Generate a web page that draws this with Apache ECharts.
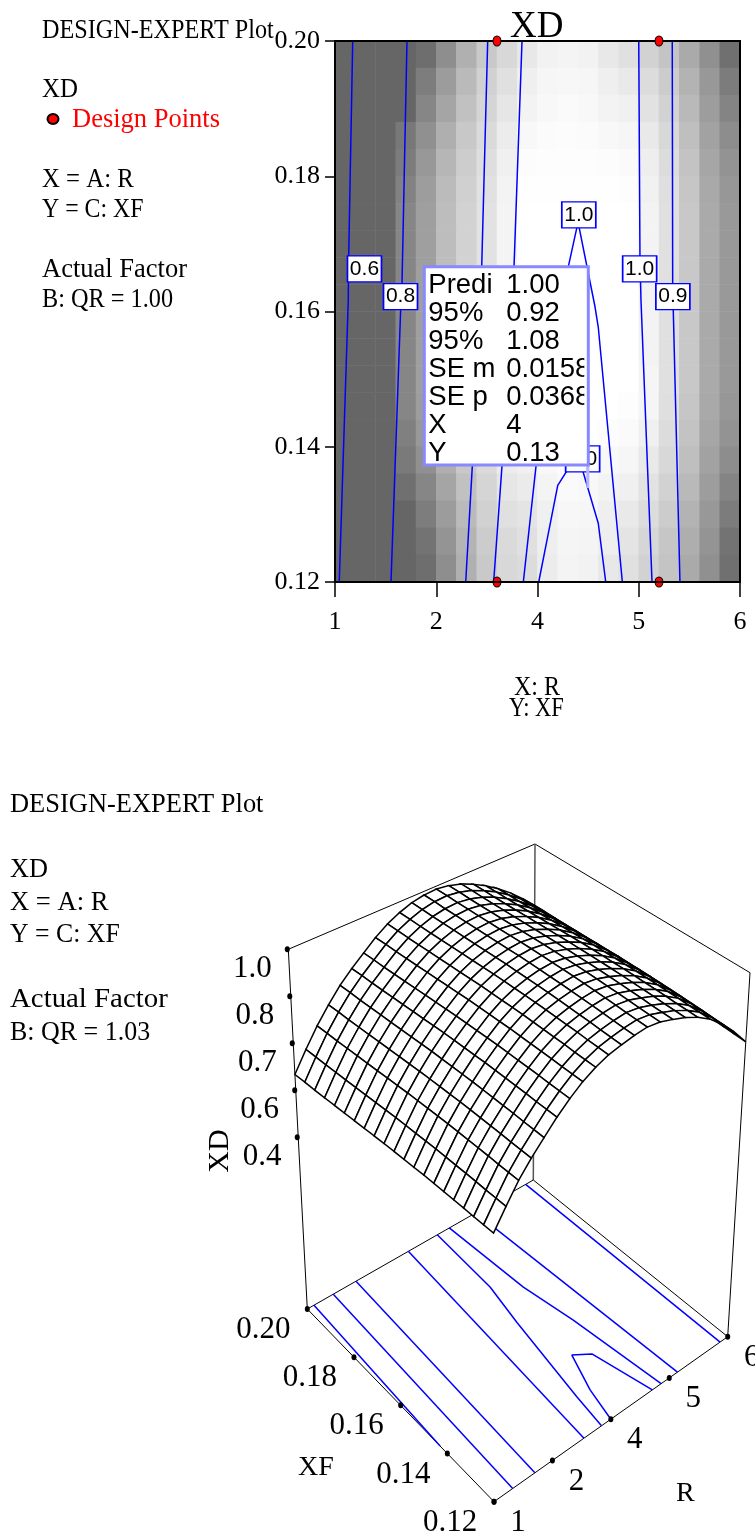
<!DOCTYPE html>
<html><head><meta charset="utf-8">
<style>html,body{margin:0;padding:0;background:#fff}#c{width:755px;height:1540px}</style>
<script src="https://cdn.jsdelivr.net/npm/echarts@6/dist/echarts.min.js"></script>
</head><body><div id="c"></div>
<script>
// ---- data ----
const rTickLabels = ['1','2','4','5','6'];          // evenly spaced on the printed axis
const xfTicks = [0.12,0.14,0.16,0.18,0.20];
const xdTickValues = [1.0,0.85,0.70,0.55,0.40];
const xdTickLabels = ['1.0','0.8','0.7','0.6','0.4'];
const designPoints = [[1.6,0.20],[3.2,0.20],[1.6,0.12],[3.2,0.12]];

// grey level of each cell, top row (XF=0.20) first
const shadeRows = [
[102,102,102,102,110,142,176,201,216,232,242,244,242,232,224,210,196,170,144,112],
[102,102,102,102,125,156,186,209,224,239,246,247,246,239,233,220,204,179,152,124],
[102,102,102,102,134,165,193,213,230,243,248,250,248,243,240,226,210,185,157,132],
[102,102,102,120,144,175,200,218,236,248,251,252,251,248,246,233,216,191,162,141],
[102,102,102,124,152,182,205,222,240,252,253,253,253,252,250,238,220,195,166,147],
[102,102,102,130,157,187,208,225,243,254,254,254,254,254,253,241,223,198,169,151],
[102,102,102,134,159,189,210,226,244,255,255,255,255,255,255,243,224,200,170,153],
[102,102,102,134,159,189,210,226,244,255,255,255,255,255,255,243,224,200,170,153],
[102,102,102,134,159,189,210,226,244,255,255,255,255,255,255,243,224,200,170,153],
[102,102,102,134,159,189,210,226,244,255,255,255,255,255,255,243,224,200,170,153],
[102,102,102,134,159,189,210,226,244,255,255,255,255,255,255,243,224,200,170,153],
[102,102,102,134,159,189,210,226,244,255,255,255,255,255,255,243,224,200,170,153],
[102,102,102,134,159,189,210,226,244,254,255,255,255,255,255,245,224,200,170,153],
[102,102,102,134,157,187,208,225,243,250,254,255,255,255,253,245,223,198,169,151],
[102,102,102,128,152,182,205,222,240,246,250,255,255,252,250,240,220,195,166,147],
[102,102,102,122,144,175,200,218,236,240,248,252,252,248,246,233,216,191,162,141],
[102,102,102,112,134,165,193,213,230,235,244,250,248,243,240,226,210,185,157,132],
[102,102,102,102,125,156,186,209,224,228,240,247,246,239,233,220,204,179,152,124],
[102,102,102,102,115,148,180,204,218,224,238,245,244,238,228,214,198,174,148,115],
[102,102,102,102,110,142,176,201,216,220,236,244,242,232,224,210,196,170,144,112]
];

// contour lines of the map: [position along R axis, XF]
const mapContours = [
 [[0.175,0.20],[0.135,0.168],[0.131,0.1617],[0.042,0.12]],
 [[0.711,0.20],[0.662,0.1642],[0.649,0.1605],[0.553,0.12]],
 [[1.508,0.20],[1.449,0.1666],[1.356,0.1371],[1.291,0.12]],
 [[1.847,0.20],[1.768,0.1666],[1.649,0.1371],[1.567,0.12]],
 [[1.860,0.12],[1.985,0.1371],[2.304,0.1666],[2.387,0.1723],[2.40,0.1735],[2.413,0.1723],[2.568,0.1607],[2.60,0.1577],[2.838,0.12]],
 [[2.012,0.12],[2.107,0.1272],[2.20,0.1343],[2.281,0.1362],[2.40,0.1385],[2.452,0.1362],[2.60,0.1287],[2.674,0.12]],
 [[3.00,0.20],[3.012,0.168],[3.022,0.1617],[3.131,0.12]],
 [[3.331,0.20],[3.335,0.1642],[3.341,0.1602],[3.407,0.12]]
];
const mapContourLabels = [
 [0.291,0.1663,'0.6'],[0.647,0.1622,'0.8'],[2.408,0.1743,'1.0'],
 [2.446,0.1382,'1.0'],[3.009,0.1663,'1.0'],[3.337,0.1622,'0.9']
];
const probeNames  = ['Predi','95%','95%','SE m','SE p','X','Y'];
const probeValues = ['1.00','0.92','1.08','0.0158','0.0368','4','0.13'];

// response surface: XD along R position at XF=0.12 and at XF=0.20, plus the bulge between them
const xdAtLowXF  = [0.633,0.69,0.745,0.79,0.83,0.87,0.905,0.935,0.958,0.975,0.985,0.993,0.998,0.993,0.98,0.965,0.945,0.918,0.88,0.835,0.782];
const xdAtHighXF = [0.60,0.662,0.72,0.77,0.815,0.852,0.885,0.918,0.945,0.965,0.98,0.988,0.99,0.984,0.972,0.953,0.93,0.902,0.87,0.832,0.79];
const xdBulge    = [0,0.001,0.002,0.004,0.005,0.006,0.007,0.008,0.008,0.008,0.008,0.008,0.007,0.006,0.005,0.004,0.003,0.002,0.001,0.001,0];

// contours on the floor of the 3D box: [position along R axis, XF]
const floorContours = [
 [[0.119,0.20],[0,0.1431]],
 [[0.46,0.20],[0.32,0.12]],
 [[0.862,0.20],[0.70,0.12]],
 [[1.788,0.20],[1.54,0.12]],
 [[2.30,0.20],[2.246,0.1766],[2.12,0.1623],[1.906,0.132],[1.84,0.12]],
 [[2.513,0.20],[2.59,0.1709],[2.716,0.1531],[2.86,0.12]],
 [[2.98,0.20],[3.14,0.12]],
 [[3.865,0.20],[3.87,0.12]],
 [[2.0,0.12],[2.11,0.1314],[2.31,0.1439],[2.52,0.1406],[2.71,0.12]]
];

// ---- 3D view of the box ----
function quad(p00,p10,p11,p01){
  return (u,v)=>[0,1].map(k=>p00[k]*(1-u)*(1-v)+p10[k]*u*(1-v)+p11[k]*u*v+p01[k]*(1-u)*v);
}
const floorMap = quad([494,1501.7],[727.7,1336.7],[533.3,1180],[307.3,1309]);
const topMap   = quad([493.3,1107],[750,972.7],[535,844],[288.3,949.3]);
const zFloor = -0.149, zTop = 1;
function project(p,xf,z){
  const u=p/4, v=(xf-0.12)/0.08, F=floorMap(u,v), T=topMap(u,v), w=(z-zFloor)/(zTop-zFloor);
  return [F[0]+(T[0]-F[0])*w, F[1]+(T[1]-F[1])*w];
}
const surfaceN = xdAtLowXF.length-1;
function surfacePoint(i,j){
  const t=j/surfaceN;
  return project(i/surfaceN*4, 0.12+t*0.08, xdAtLowXF[i]*(1-t)+xdAtHighXF[i]*t+xdBulge[j]);
}
const cells=[];
for(let i=surfaceN-1;i>=0;i--)for(let j=surfaceN-1;j>=0;j--)cells.push([i,j]);

const heatData=[];
shadeRows.forEach((row,r)=>row.forEach((g,c)=>heatData.push([c,r,g])));
const idx20=Array.from({length:20},(_,i)=>String(i));

const serif='"Liberation Serif","Times New Roman",serif', sans='"Liberation Sans",Arial,sans-serif';
function txt(x,y,text,size,sx,color){
  return {type:'text',x,y,scaleX:sx||1,silent:true,z:20,style:{text,fill:color||'#000',font:size+'px '+serif,verticalAlign:'middle'}};
}
const graphicEls=[
  txt(42,31,'DESIGN-EXPERT Plot',26.5,0.913), txt(42,90.5,'XD',26.5,0.94), txt(72,120.5,'Design Points',26.5,1,'#ff0000'),
  txt(42,180.5,'X = A: R',26.5,0.935), txt(42,210.5,'Y = C: XF',26.5,0.90), txt(42,270.5,'Actual Factor',26.5,1), txt(42,300.5,'B: QR = 1.00',26.5,0.916),
  txt(510,27,'XD',37), txt(514,688,'X: R',26.5,0.905), txt(509,709,'Y: XF',26.5,0.85),
  txt(10,805,'DESIGN-EXPERT Plot',28,0.945), txt(10,870,'XD',28,0.94), txt(10,903,'X = A: R',28,0.95), txt(10,935,'Y = C: XF',28,0.92),
  txt(10,1000,'Actual Factor',28,1.03), txt(10,1033,'B: QR = 1.03',28,0.927),
  txt(298,1468,'XF',28), txt(676,1494,'R',28),
  {type:'text',x:220,y:1151,rotation:Math.PI/2,silent:true,z:20,style:{text:'XD',fill:'#000',font:'30px '+serif,align:'center',verticalAlign:'middle'}},
  {type:'ellipse',shape:{cx:53,cy:119,rx:5.5,ry:5},style:{fill:'#ff0000',stroke:'#000',lineWidth:2},z:20,silent:true}
];

const lineBase={type:'line',showSymbol:false,symbol:'none',silent:true,animation:false,clip:false};
const series=[];
// map
series.push({type:'heatmap',xAxisIndex:1,yAxisIndex:1,data:heatData,z:1,silent:true,animation:false,itemStyle:{borderWidth:0}});
mapContours.forEach(c=>series.push(Object.assign({},lineBase,{xAxisIndex:0,yAxisIndex:0,data:c,z:3,lineStyle:{color:'#0000ff',width:1.5}})));
series.push({type:'scatter',xAxisIndex:0,yAxisIndex:0,data:mapContourLabels,symbol:'rect',symbolSize:[34,26],z:4,silent:true,animation:false,clip:false,
  itemStyle:{color:'#fff',borderColor:'#0000ff',borderWidth:1.5,opacity:1},
  label:{show:true,position:'inside',formatter:p=>p.data[2],color:'#000',fontFamily:sans,fontSize:21}});
series.push({type:'scatter',xAxisIndex:0,yAxisIndex:0,data:designPoints,symbol:'circle',symbolSize:[8,10],z:5,silent:true,animation:false,clip:false,
  itemStyle:{color:'#ff0000',borderColor:'#000',borderWidth:1,opacity:1}});
// probe box
series.push({type:'custom',xAxisIndex:2,yAxisIndex:2,data:[[424.3,266.7,588.3,465]],z:6,silent:true,animation:false,clip:false,
  renderItem:(params,api)=>{
    const a=api.coord([api.value(0),api.value(1)]), b=api.coord([api.value(2),api.value(3)]);
    const kids=[
      {type:'rect',shape:{x:b[0]-2,y:b[1],width:3,height:23},style:{fill:'#b4b4ff'}},
      {type:'rect',shape:{x:a[0],y:a[1],width:b[0]-a[0],height:b[1]-a[1]},style:{fill:'#fff',stroke:'#8888ff',lineWidth:3}}
    ];
    const step=28, y0=a[1]+19;
    probeNames.forEach((n,i)=>{
      const y=y0+step*i;
      kids.push({type:'text',x:a[0]+4,y,style:{text:n,fill:'#000',font:'27.5px '+sans,verticalAlign:'middle'}});
      kids.push({type:'text',x:a[0]+82,y,clipPath:{type:'rect',shape:{x:-2,y:-20,width:(b[0]-a[0])-82-2,height:40}},
        style:{text:probeValues[i],fill:'#000',font:'27.5px '+sans,verticalAlign:'middle'}});
    });
    return {type:'group',children:kids};
  }});

// 3D box
function pLine(pts,color,width,z){
  return Object.assign({},lineBase,{xAxisIndex:2,yAxisIndex:2,data:pts,z:z||7,lineStyle:{color:color||'#000',width:width||1}});
}
const cornerA=[0,0.20],cornerB=[4,0.20],cornerC=[4,0.12],cornerD=[0,0.12];
series.push(pLine([project(...cornerA,zTop),project(...cornerB,zTop),project(...cornerC,zTop)]));
series.push(pLine([project(...cornerA,zTop),project(...cornerA,zFloor)]));
series.push(pLine([project(...cornerC,zTop),project(...cornerC,zFloor)]));
series.push(pLine([project(...cornerB,zTop),project(...cornerB,zFloor)],'#555',1.5));
series.push(pLine([cornerA,cornerB,cornerC,cornerD,cornerA].map(c=>project(...c,zFloor))));
floorContours.forEach(c=>series.push(pLine(c.map(q=>project(q[0],q[1],zFloor)),'#0000ff',1.5,8)));
// tick dots + labels
const dot={type:'scatter',xAxisIndex:2,yAxisIndex:2,symbol:'circle',symbolSize:[5,6],z:9,silent:true,animation:false,clip:false,itemStyle:{color:'#000',opacity:1}};
function tickSeries(pts,labels,dx,dy,fs){
  return Object.assign({},dot,{data:pts.map((q,i)=>({value:q,name:labels[i]})),
    label:{show:true,position:'inside',offset:[dx,dy],formatter:p=>p.name,color:'#000',fontFamily:serif,fontSize:fs}});
}
series.push(tickSeries(xdTickValues.map(z=>{const q=project(0,0.20,z);return [q[0]-1,q[1]];}),xdTickLabels,-35,20,31));
series.push(tickSeries(xfTicks.map(x=>project(0,x,zFloor)),xfTicks.map(x=>x.toFixed(2)),-44,21,31));
series.push(tickSeries(rTickLabels.map((_,i)=>project(i,0.12,zFloor)),rTickLabels,24,21,31));
// surface
series.push({type:'custom',xAxisIndex:2,yAxisIndex:2,data:cells,z:10,silent:true,animation:false,clip:false,
  renderItem:(params,api)=>{
    const i=api.value(0), j=api.value(1);
    const pts=[surfacePoint(i,j),surfacePoint(i+1,j),surfacePoint(i+1,j+1),surfacePoint(i,j+1)].map(q=>api.coord(q));
    return {type:'polygon',shape:{points:pts},style:{fill:'#fff',stroke:'#000',lineWidth:1.5}};
  }});

const chart=echarts.init(document.getElementById('c'),null,{renderer:'canvas'});
chart.setOption({
  animation:false,backgroundColor:'#fff',
  visualMap:{show:false,seriesIndex:0,min:102,max:255,inRange:{color:['#666666','#ffffff']}},
  grid:[
    {left:335,top:41,width:405,height:541,show:true,backgroundColor:'transparent',borderColor:'#000',borderWidth:2,z:5},
    {left:0,top:0,width:755,height:1540}
  ],
  xAxis:[
    {type:'value',gridIndex:0,min:0,max:4,interval:1,z:6,
      axisLine:{lineStyle:{color:'#000',width:2}},axisTick:{length:15,lineStyle:{color:'#000',width:1.5}},splitLine:{show:false},
      axisLabel:{margin:27,color:'#000',fontFamily:serif,fontSize:26,formatter:v=>rTickLabels[v],hideOverlap:false,showMinLabel:true,showMaxLabel:true}},
    {type:'category',gridIndex:0,data:idx20,show:false},
    {type:'value',gridIndex:1,min:0,max:755,show:false}
  ],
  yAxis:[
    {type:'value',gridIndex:0,min:0.12,max:0.20,interval:0.02,z:6,
      axisLine:{lineStyle:{color:'#000',width:2}},axisTick:{length:10,lineStyle:{color:'#000',width:1.5}},splitLine:{show:false},
      axisLabel:{margin:15,color:'#000',fontFamily:serif,fontSize:26,formatter:v=>v.toFixed(2),showMinLabel:true,showMaxLabel:true}},
    {type:'category',gridIndex:0,data:idx20,inverse:true,show:false},
    {type:'value',gridIndex:1,min:0,max:1540,inverse:true,show:false}
  ],
  graphic:{elements:graphicEls},
  series
});
</script></body></html>
